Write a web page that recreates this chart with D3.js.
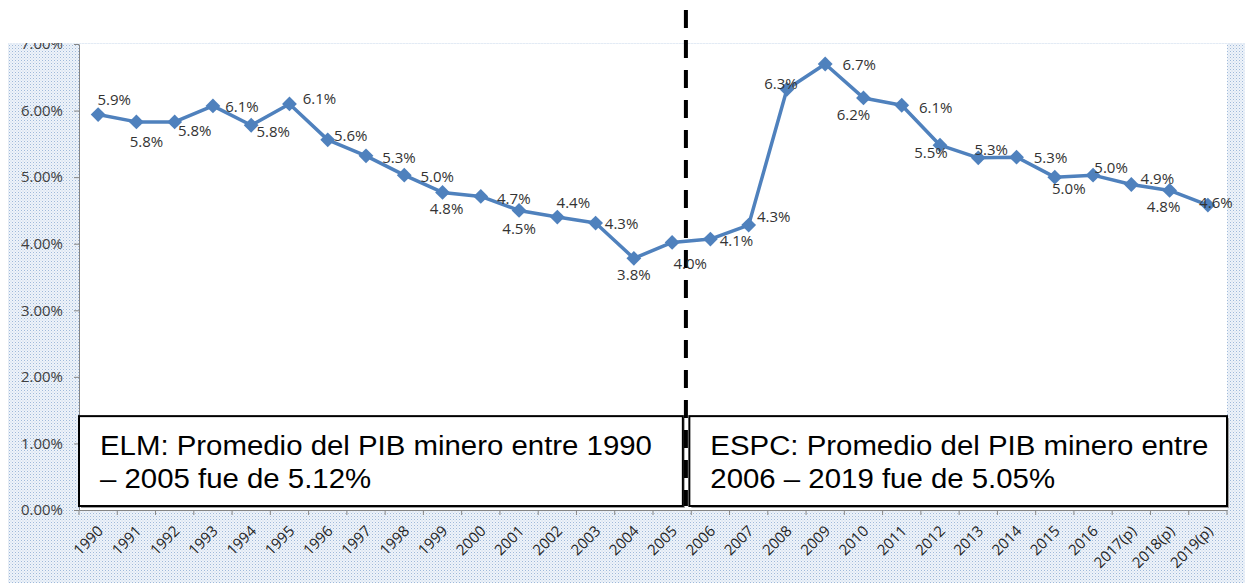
<!DOCTYPE html>
<html>
<head>
<meta charset="utf-8">
<script src="https://cdn.jsdelivr.net/npm/d3@7"></script>
<style>
  body { margin: 0; background: #fff; }
  svg { display: block; }
</style>
</head>
<body>
<svg id="chart"></svg>
<script>
// categories
var years = ["1990","1991","1992","1993","1994","1995","1996","1997","1998","1999",
             "2000","2001","2002","2003","2004","2005","2006","2007","2008","2009",
             "2010","2011","2012","2013","2014","2015","2016","2017(p)","2018(p)","2019(p)"];

// share of mining in GDP (%)
var pibMinero = [5.94, 5.83, 5.83, 6.07, 5.78, 6.10, 5.56, 5.32, 5.03, 4.77,
                 4.71, 4.50, 4.40, 4.31, 3.78, 4.02, 4.07, 4.28, 6.32, 6.70,
                 6.19, 6.08, 5.48, 5.29, 5.30, 5.00, 5.03, 4.89, 4.80, 4.58];

var yTicks = [0, 1, 2, 3, 4, 5, 6, 7];

var boxTexts = [
  ["ELM: Promedio del PIB minero entre 1990", "\u2013 2005 fue de 5.12%"],
  ["ESPC: Promedio del PIB minero entre", "2006 \u2013 2019 fue de 5.05%"]
];

// where each data label sits relative to its marker (centre offset)
var labelOff = [[16,-15],[10,20],[20,9],[29,1],[22,7],[30,-5],[23,-4],[33,2],[33,2],[4,16],
                [33,2],[0,18],[16,-14],[26,1],[0,16],[18,21],[26,2],[25,-8],[-6,-6],[34,1],
                [-10,17],[34,3],[-9,8],[13,-8],[34,1],[14,12],[18,-7],[26,-6],[-6,16],[8,-2]];

var W = 1245, H = 583;
var margin = {left: 79, right: 18, top: 44, bottom: 73};

var svg = d3.select("#chart").attr("width", W).attr("height", H);

var defs = svg.append("defs");
var pat = defs.append("pattern")
  .attr("id", "dots").attr("width", 3).attr("height", 3)
  .attr("patternUnits", "userSpaceOnUse");
pat.append("rect").attr("width", 3).attr("height", 3).attr("fill", "#eef3f9");
pat.append("rect").attr("width", 1).attr("height", 1).attr("fill", "#9fb9da");
pat.append("rect").attr("x", 1.5).attr("y", 1.5).attr("width", 1).attr("height", 1).attr("fill", "#c4d4e9");

defs.append("clipPath").attr("id", "areaClip")
  .append("rect").attr("x", 8).attr("y", 43).attr("width", W - 8).attr("height", H - 43);

// outer chart area with dotted fill
svg.append("rect")
  .attr("x", 8).attr("y", 43).attr("width", W - 8).attr("height", H - 43)
  .attr("fill", "url(#dots)");

var x = d3.scaleBand()
  .domain(years)
  .range([margin.left, W - margin.right]);

var y = d3.scaleLinear()
  .domain([0, 7])
  .range([H - margin.bottom, margin.top]);

// plot area
svg.append("rect")
  .attr("x", margin.left).attr("y", margin.top)
  .attr("width", x.range()[1] - margin.left)
  .attr("height", y(0) - margin.top)
  .attr("fill", "#fff");

// y axis
var yAxis = svg.append("g")
  .attr("clip-path", "url(#areaClip)")
  .append("g")
  .attr("transform", "translate(" + margin.left + ",0)")
  .call(d3.axisLeft(y).tickValues(yTicks).tickSizeInner(5).tickSizeOuter(0)
        .tickPadding(11).tickFormat(function(d) { return d.toFixed(2) + "%"; }));
yAxis.select(".domain").attr("stroke", "#868686");
yAxis.selectAll(".tick line").attr("stroke", "#868686");
yAxis.selectAll("text")
  .attr("font-family", "Open Sans")
  .attr("font-size", 15)
  .attr("fill", "#404040");

// x axis
var xAxis = svg.append("g")
  .attr("transform", "translate(0," + y(0) + ")")
  .call(d3.axisBottom(x).tickSize(0).tickSizeOuter(0).tickPadding(0));
xAxis.select(".domain").attr("stroke", "#868686");
xAxis.selectAll(".tick text")
  .attr("font-family", "Open Sans")
  .attr("font-size", 15)
  .attr("fill", "#262626")
  .attr("text-anchor", "end")
  .attr("dy", 0)
  .attr("transform", "translate(6,22) rotate(-45)");

// category boundary ticks
var bounds = years.map(function(d) { return x(d); }).concat([x.range()[1]]);
svg.append("g").selectAll("line")
  .data(bounds)
  .enter()
  .append("line")
  .attr("x1", function(d) { return d; })
  .attr("x2", function(d) { return d; })
  .attr("y1", y(0))
  .attr("y2", y(0) + 5)
  .attr("stroke", "#868686");

// text boxes
var boxY0 = y(1.41), boxY1 = y(0.06);
var boxX = [[margin.left, x("2005") + x.bandwidth() * 0.78],
            [x("2006") - x.bandwidth() * 0.05, x.range()[1]]];

boxX.forEach(function(b, i) {
  svg.append("rect")
    .attr("x", b[0] + 2).attr("y", boxY0 + 2)
    .attr("width", b[1] - b[0]).attr("height", boxY1 - boxY0)
    .attr("fill", "#a0a0a0");
  svg.append("rect")
    .attr("x", b[0]).attr("y", boxY0)
    .attr("width", b[1] - b[0]).attr("height", boxY1 - boxY0)
    .attr("fill", "#fff").attr("stroke", "#000").attr("stroke-width", 2);
  svg.append("g").selectAll("text")
    .data(boxTexts[i])
    .enter()
    .append("text")
    .attr("transform", function(d, j) {
      return "translate(" + (b[0] + 21) + "," + (boxY0 + 39 + j * 33) + ") scale(1.05,1)";
    })
    .attr("font-family", "Liberation Sans, Arial")
    .attr("font-size", 28)
    .attr("fill", "#000")
    .text(function(d) { return d; });
});

// divider between periods
var divX = x("2005") + x.bandwidth() * 0.36 + x.bandwidth() / 2;
svg.append("line")
  .attr("x1", divX).attr("x2", divX)
  .attr("y1", 10).attr("y2", boxY1)
  .attr("stroke", "#000")
  .attr("stroke-width", 4)
  .attr("stroke-dasharray", "18,12");

// series
var cx = function(d, i) { return x(years[i]) + x.bandwidth() / 2; };

var line = d3.line()
  .x(cx)
  .y(function(d) { return y(d); });

svg.append("path")
  .datum(pibMinero)
  .attr("fill", "none")
  .attr("stroke", "#4f81bd")
  .attr("stroke-width", 3.5)
  .attr("stroke-linejoin", "round")
  .attr("d", line);

svg.append("g").selectAll("path")
  .data(pibMinero)
  .enter()
  .append("path")
  .attr("d", d3.symbol().type(d3.symbolDiamond2).size(140))
  .attr("transform", function(d, i) { return "translate(" + cx(d, i) + "," + y(d) + ")"; })
  .attr("fill", "#4f81bd");

svg.append("g").selectAll("text")
  .data(pibMinero)
  .enter()
  .append("text")
  .attr("x", function(d, i) { return cx(d, i) + labelOff[i][0]; })
  .attr("y", function(d, i) { return y(d) + labelOff[i][1]; })
  .attr("dy", "0.35em")
  .attr("text-anchor", "middle")
  .attr("font-family", "Open Sans")
  .attr("font-size", 15)
  .attr("fill", "#333")
  .text(function(d) { return d.toFixed(1) + "%"; });
</script>
</body>
</html>
